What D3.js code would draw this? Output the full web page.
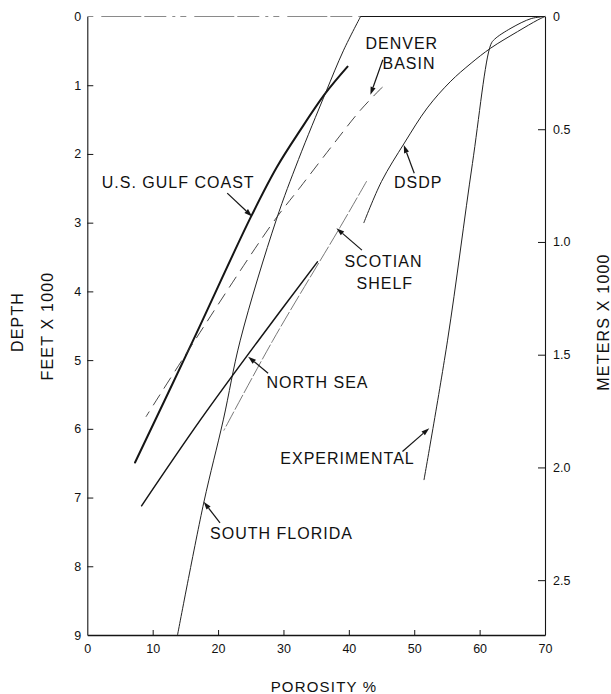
<!DOCTYPE html>
<html>
<head>
<meta charset="utf-8">
<script src="https://cdn.jsdelivr.net/npm/d3@7"></script>
<style>
  html, body { margin: 0; padding: 0; background: #fff; }
  svg { display: block; }
  text { font-family: "Liberation Sans", Arial, Helvetica, sans-serif; fill: #111; }
</style>
</head>
<body>
<svg id="chart" width="611" height="694"></svg>
<script>
// ---------- DATA (porosity %, depth in feet x 1000) ----------
const gulfCoast   = [[7.3,6.49],[16.2,4.71],[25.0,2.92],[29.0,2.19],[32.6,1.65],[36.4,1.12],[39.8,0.73]];
const southFlorida= [[13.8,9.0],[17.8,7.08],[20.8,5.87],[23.4,4.71],[28.9,2.96],[32.3,2.08],[36.4,1.12],[39.2,0.49],[41.8,0.0]];
const denverBasin = [[9.0,5.82],[14.7,4.97],[28.3,3.01],[32.6,2.48],[37.7,1.85],[41.8,1.36],[45.1,1.03]];
const scotianShelf= [[20.9,6.02],[28.4,4.71],[38.7,3.06],[42.7,2.40]];
const northSea    = [[8.3,7.12],[17.3,5.87],[26.2,4.71],[35.2,3.57]];
const dsdp        = [[42.3,3.0],[45.0,2.4],[48.5,1.84],[52.0,1.33],[55.5,0.95],[58.7,0.68],[61.7,0.46],[65.8,0.22],[68.9,0.05],[70.0,0.0]];
const experimental= [[51.5,6.74],[55.1,4.71],[58.9,2.14],[61.7,0.41],[62.3,0.33],[64.8,0.17],[67.9,0.03],[70.0,0.0]];

const porosityTicks = [0,10,20,30,40,50,60,70];
const feetTicks     = [0,1,2,3,4,5,6,7,8,9];
const meterTicks    = [0,0.5,1.0,1.5,2.0,2.5];

// annotations: label lines, label centre (p,d), arrow tail (p,d), arrow head (p,d)
const labels = [
  {lines:["DENVER","BASIN"], pos:[[48.1,0.386],[49.2,0.677]], tail:[45.2,0.63], head:[43.3,1.14]},
  {lines:["U.S. GULF COAST"], pos:[[13.9,2.41]], tail:[21.4,2.57], head:[25.2,2.91]},
  {lines:["DSDP"], pos:[[50.6,2.42]], tail:[50.0,2.28], head:[48.4,1.87]},
  {lines:["SCOTIAN","SHELF"], pos:[[45.3,3.57],[45.5,3.88]], tail:[42.0,3.40], head:[38.1,3.08]},
  {lines:["NORTH SEA"], pos:[[35.2,5.33]], tail:[27.65,5.19], head:[24.6,4.95]},
  {lines:["EXPERIMENTAL"], pos:[[39.8,6.43]], tail:[48.2,6.33], head:[52.3,5.99]},
  {lines:["SOUTH FLORIDA"], pos:[[29.7,7.53]], tail:[20.3,7.37], head:[17.8,7.06]}
];

// ---------- LAYOUT ----------
const svg = d3.select("#chart");
const L = 87.3, R = 545, T = 16.5, B = 635;
const x = d3.scaleLinear().domain([0,70]).range([L,R]);
const y = d3.scaleLinear().domain([0,9]).range([T,B]);
const ym = d3.scaleLinear().domain([0, 9*0.3048]).range([T,B]);

const ink = "#151515";

// axes
const gLeft = svg.append("g").attr("transform",`translate(${L},0)`)
  .call(d3.axisLeft(y).tickValues(feetTicks).tickSizeInner(-6).tickSizeOuter(0).tickPadding(6).tickFormat(d3.format("d")));
const gRight = svg.append("g").attr("transform",`translate(${R},0)`)
  .call(d3.axisRight(ym).tickValues(meterTicks).tickSizeInner(-7).tickSizeOuter(0).tickPadding(8)
        .tickFormat(d => d === 0 ? "0" : d3.format(".1f")(d)));
const gBottom = svg.append("g").attr("transform",`translate(0,${B})`)
  .call(d3.axisBottom(x).tickValues(porosityTicks).tickSizeInner(-5).tickSizeOuter(0).tickPadding(9).tickFormat(d3.format("d")));

[gLeft,gRight,gBottom].forEach(g => {
  g.selectAll("path.domain").attr("stroke", ink).attr("stroke-width", 1.1);
  g.selectAll(".tick line").attr("stroke", ink).attr("stroke-width", 1);
  g.selectAll(".tick text").attr("font-size", 12.5).attr("font-family","Liberation Sans, Arial, sans-serif").attr("fill", ink);
});
gBottom.selectAll("path.domain").attr("stroke-width", 1.3);
gLeft.selectAll(".tick").filter(d => d === 0 || d === 9).select("line").remove();
gRight.selectAll(".tick").filter(d => d === 0).select("line").remove();
gBottom.selectAll(".tick").filter(d => d === 0 || d === 70).select("line").remove();

// top frame: faint/broken on the left, solid on the right (as in the scan)
svg.append("line").attr("x1", x(0)).attr("x2", x(41.8)).attr("y1", y(0)).attr("y2", y(0))
  .attr("stroke", "#8a8a8a").attr("stroke-width", 1).attr("stroke-dasharray", "6,8,40,3,22,6,3,5");
svg.append("line").attr("x1", x(41.8)).attr("x2", x(70)).attr("y1", y(0)).attr("y2", y(0))
  .attr("stroke", ink).attr("stroke-width", 1.1);

// ---------- CURVES ----------
const line = d3.line()
  .x(d => x(d[0])).y(d => y(d[1]))
  .curve(d3.curveCatmullRom.alpha(0.5));
const sorted = arr => arr.slice().sort((a,b) => a[1]-b[1]);

const series = [
  {data: gulfCoast,    w: 2.0, c: ink},
  {data: southFlorida, w: 1.0, c: "#222"},
  {data: denverBasin,  w: 0.9, c: "#333", dash: "12,8"},
  {data: scotianShelf, w: 0.8, c: "#555", dash: "16,3"},
  {data: northSea,     w: 1.5, c: ink},
  {data: dsdp,         w: 1.0, c: "#222"},
  {data: experimental, w: 1.0, c: "#222"}
];
svg.append("g").selectAll("path").data(series).join("path")
  .attr("d", s => line(sorted(s.data)))
  .attr("fill", "none")
  .attr("stroke", s => s.c)
  .attr("stroke-width", s => s.w)
  .attr("stroke-dasharray", s => s.dash || null)
  .attr("stroke-linecap", "round");

// ---------- LABELS & ARROWS ----------
const gl = svg.append("g");
labels.forEach(lb => {
  lb.lines.forEach((t,i) => {
    gl.append("text").attr("x", x(lb.pos[i][0])).attr("y", y(lb.pos[i][1]))
      .attr("text-anchor","middle").attr("dominant-baseline","central")
      .attr("font-size", 16).attr("letter-spacing", 1).text(t);
  });
  const x1 = x(lb.tail[0]), y1 = y(lb.tail[1]), x2 = x(lb.head[0]), y2 = y(lb.head[1]);
  const ang = Math.atan2(y2-y1, x2-x1);
  const hl = 8, hw = 2.6;
  const bx = x2 - hl*Math.cos(ang), by = y2 - hl*Math.sin(ang);
  gl.append("line").attr("x1", x1).attr("y1", y1).attr("x2", bx).attr("y2", by)
    .attr("stroke", ink).attr("stroke-width", 1.2);
  const px = -Math.sin(ang), py = Math.cos(ang);
  gl.append("path")
    .attr("d", `M${x2},${y2}L${bx+px*hw},${by+py*hw}L${bx-px*hw},${by-py*hw}Z`)
    .attr("fill", ink);
});

// ---------- AXIS TITLES ----------
svg.append("text").attr("transform","translate(17,322) rotate(-90)")
  .attr("text-anchor","middle").attr("dominant-baseline","central")
  .attr("font-size",16).attr("letter-spacing",1.2).text("DEPTH");
svg.append("text").attr("transform","translate(47,326) rotate(-90)")
  .attr("text-anchor","middle").attr("dominant-baseline","central")
  .attr("font-size",16).attr("letter-spacing",1.2).text("FEET X 1000");
svg.append("text").attr("transform","translate(603,322) rotate(-90)")
  .attr("text-anchor","middle").attr("dominant-baseline","central")
  .attr("font-size",16).attr("letter-spacing",1.2).text("METERS X 1000");
svg.append("text").attr("x",324).attr("y",686)
  .attr("text-anchor","middle").attr("dominant-baseline","central")
  .attr("font-size",15).attr("letter-spacing",1.2).text("POROSITY %");
</script>
</body>
</html>
